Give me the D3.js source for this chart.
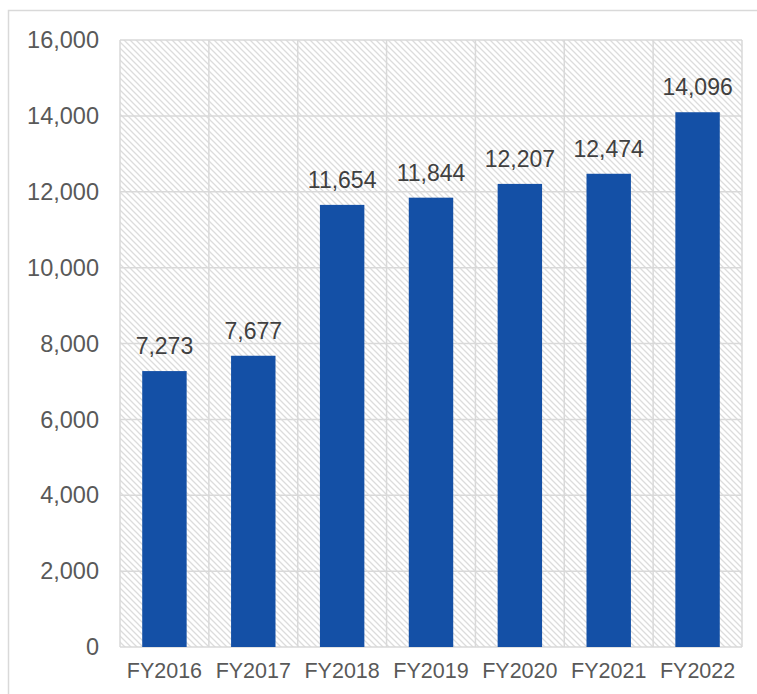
<!DOCTYPE html>
<html lang="en">
<head>
  <meta charset="UTF-8">
  <style>
    body { margin: 0; background: #fff; }
    text { font-family: "Liberation Sans", Arial, sans-serif; }
  </style>
</head>
<body>
  <svg class="chart"></svg>
  <script src="https://cdnjs.cloudflare.com/ajax/libs/d3/7.8.5/d3.min.js"></script>
  <script>
    const years = ['FY2016', 'FY2017', 'FY2018', 'FY2019', 'FY2020', 'FY2021', 'FY2022']
    const values = [7273, 7677, 11654, 11844, 12207, 12474, 14096]
    const yTicks = [0, 2000, 4000, 6000, 8000, 10000, 12000, 14000, 16000]

    const chart = { width: 757, height: 694 }
    const plot = { left: 120, right: 742, top: 40, bottom: 647 }
    const gridColor = '#d9d9d9'

    const svg = d3.select('.chart')
      .attr('width', chart.width)
      .attr('height', chart.height)

    // diagonal hatch behind the bars
    const pattern = svg.append('defs').append('pattern')
      .attr('id', 'hatch')
      .attr('patternUnits', 'userSpaceOnUse')
      .attr('width', 6)
      .attr('height', 6)
    pattern.append('path')
      .attr('d', 'M-1,-1L7,7M-7,-1L1,7M5,-1L13,7')
      .attr('stroke', '#dcdcdc')
      .attr('stroke-width', 1.3)

    // outer frame, runs off the right and bottom edges
    svg.append('rect')
      .attr('x', 8.5).attr('y', 10.5)
      .attr('width', 800).attr('height', 750)
      .attr('fill', '#fff')
      .attr('stroke', gridColor)
      .attr('stroke-width', 1.5)

    const x = d3.scaleBand()
      .domain(years)
      .range([plot.left, plot.right])
      .paddingInner(0.5)
      .paddingOuter(0.25)

    const y = d3.scaleLinear()
      .domain([0, d3.max(yTicks)])
      .range([plot.bottom, plot.top])

    svg.append('rect')
      .attr('x', plot.left).attr('y', plot.top)
      .attr('width', plot.right - plot.left)
      .attr('height', plot.bottom - plot.top)
      .attr('fill', 'url(#hatch)')

    // gridlines: horizontal at ticks, vertical between categories
    const grid = svg.append('g')
      .attr('stroke', gridColor)
      .attr('stroke-width', 1.5)
    grid.selectAll('.h')
      .data(yTicks)
      .join('line')
        .attr('x1', plot.left).attr('x2', plot.right)
        .attr('y1', d => y(d)).attr('y2', d => y(d))
    const bounds = d3.range(years.length + 1).map(i => plot.left + i * (plot.right - plot.left) / years.length)
    grid.selectAll('.v')
      .data(bounds)
      .join('line')
        .attr('x1', d => d).attr('x2', d => d)
        .attr('y1', plot.top).attr('y2', plot.bottom)

    // bars
    svg.append('g')
      .selectAll('rect')
      .data(values)
      .join('rect')
        .attr('x', (d, i) => x(years[i]))
        .attr('y', d => y(d))
        .attr('width', x.bandwidth())
        .attr('height', d => plot.bottom - y(d))
        .attr('fill', '#1450a6')

    // value labels
    svg.append('g')
      .selectAll('text')
      .data(values)
      .join('text')
        .attr('x', (d, i) => x(years[i]) + x.bandwidth() / 2)
        .attr('y', d => y(d) - 17)
        .attr('text-anchor', 'middle')
        .attr('font-size', 23)
        .attr('fill', '#404040')
        .text(d => d3.format(',')(d))

    // y axis labels
    svg.append('g')
      .selectAll('text')
      .data(yTicks)
      .join('text')
        .attr('x', 99)
        .attr('y', d => y(d))
        .attr('dy', '0.35em')
        .attr('text-anchor', 'end')
        .attr('font-size', 23.5)
        .attr('fill', '#595959')
        .text(d => d3.format(',')(d))

    // x axis labels
    svg.append('g')
      .selectAll('text')
      .data(years)
      .join('text')
        .attr('x', d => x(d) + x.bandwidth() / 2)
        .attr('y', 678)
        .attr('text-anchor', 'middle')
        .attr('font-size', 21.5)
        .attr('fill', '#595959')
        .text(d => d)
  </script>
</body>
</html>
